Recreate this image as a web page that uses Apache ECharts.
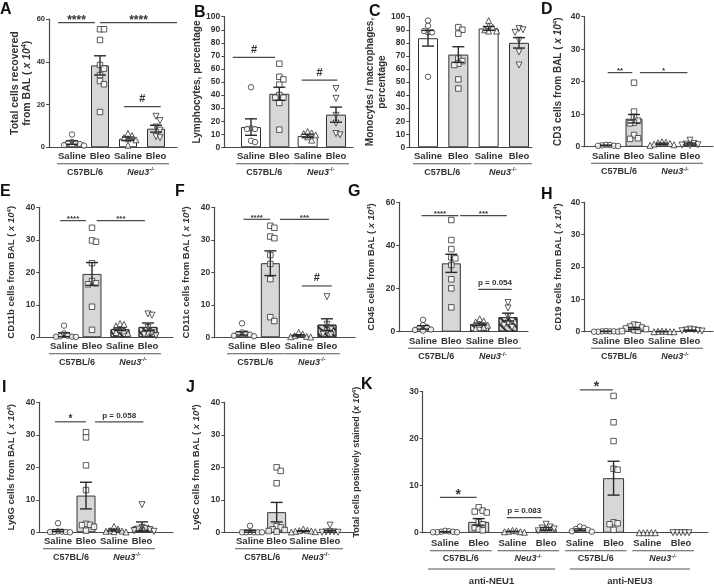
<!DOCTYPE html>
<html><head><meta charset="utf-8">
<script src="https://cdn.jsdelivr.net/npm/echarts@6/dist/echarts.min.js"></script>
<style>html,body{margin:0;padding:0;background:#fff}#c{width:714px;height:586px}</style>
</head><body><div id="c"></div>
<script>
// ---------------- DATA ----------------
const groupNames = ['Saline', 'Bleo', 'Saline', 'Bleo'];
const groupNamesK = ['Saline', 'Bleo', 'Saline', 'Bleo', 'Saline', 'Bleo', 'Saline', 'Bleo'];
const strainNames = ['C57BL/6', 'Neu3'];
const antibodyNames = ['anti-NEU1', 'anti-NEU3'];

const yTitles = [
  '{n|Total cells recovered}\n{n|from BAL ( }{i|x 10}{s|4}{n|)}',
  '{n|Lymphocytes, percentage}',
  '{n|Monocytes / macrophages,}\n{n|percentage}',
  '{n|CD3 cells from BAL ( }{i|x 10}{s|4}{n|)}',
  '{n|CD11b cells from BAL ( }{i|x 10}{s|4}{n|)}',
  '{n|CD11c cells from BAL ( }{i|x 10}{s|4}{n|)}',
  '{n|CD45 cells from BAL ( }{i|x 10}{s|4}{n|)}',
  '{n|CD19 cells from BAL ( }{i|x 10}{s|4}{n|)}',
  '{n|Ly6G cells from BAL ( }{i|x 10}{s|4}{n|)}',
  '{n|Ly6C cells from BAL ( }{i|x 10}{s|4}{n|)}',
  '{n|Total cells positively stained (}{i|x 10}{s|4}{n|)}'
];

// A: total cells
const A_mean = [2.2, 38.3, 4.0, 8.7];
const A_sem = [0.8, 4.5, 0.8, 1.6];
const A_pts = [[6, 2.5, 2, 2, 1.5, 1, 0.8], [55.2, 55.2, 50.2, 38.5, 36.8, 33.8, 31, 29.5, 16.5], [6.5, 5.5, 4.5, 4, 3.5, 1], [14.5, 12.5, 9.5, 8, 5, 4.5]];
const A_sig = [[0.5, 1.82, 58.3, '****'], [2.0, 4.75, 58.3, '****'], [2.86, 4.17, 19, '#']];
// B: lymphocytes %
const B_mean = [15.5, 41, 8.7, 25];
const B_sem = [6.3, 5, 1.3, 5.8];
const B_pts = [[46, 14.5, 14, 14, 5, 4], [64, 54, 52, 48, 40, 38, 38, 34, 13.5], [12, 11, 10.5, 9.5, 8, 5.5], [45, 37.5, 24.5, 18.5, 10.5, 9.5]];
const B_sig = [[0.36, 1.85, 68.9, '#'], [2.79, 4.05, 51.5, '#']];
// C: monocytes / macrophages %
const C_mean = [83.5, 71, 91, 80];
const C_sem = [6, 6, 1.5, 4];
const C_pts = [[97, 93, 88, 88, 89, 54], [92, 90, 87, 68, 66, 64, 63, 52, 45], [97, 93, 92, 90, 89, 89], [91, 90, 88, 82, 73, 63]];
const C_sig = [];
// D: CD3
const D_mean = [0.4, 8.6, 0.9, 0.8];
const D_sem = [0.1, 1.3, 0.2, 0.3];
const D_pts = [[0.6, 0.5, 0.4, 0.3, 0.3, 0.2], [19.7, 10.8, 9.2, 8, 7.4, 7.2, 3.6, 2.6, 2.4], [1.5, 1.4, 1.2, 1, 0.8, 0.6, 0.4], [2, 1, 0.8, 0.6, 0.5, 0.4]];
const D_sig = [[1.06, 1.94, 22.8, '**'], [2.21, 3.91, 22.8, '*']];
// E: CD11b
const E_mean = [0.8, 19.5, 2.5, 3.2];
const E_sem = [0.6, 3.5, 0.4, 1.2];
const E_pts = [[3.6, 1.2, 0.5, 0.3, 0.2, 0.2, 0.1], [33.7, 29.8, 29.4, 22.8, 17.3, 16.6, 16.3, 9.4, 2.3], [4.2, 4, 3.5, 2.5, 2, 1.5, 1.2], [7.2, 6.8, 3, 1.5, 1, 0.8, 0.5]];
const E_sig = [[0.86, 1.79, 35.9, '****'], [2.17, 3.89, 35.9, '***']];
// F: CD11c
const F_mean = [1.2, 22.8, 0.6, 3.9];
const F_sem = [0.5, 3.8, 0.2, 1.8];
const F_pts = [[4.3, 1.5, 1.2, 1, 0.8, 0.5, 0.3], [34.3, 33.7, 31, 30.5, 25.3, 22.6, 17.9, 6.2, 5], [1.5, 1, 0.5, 0.3, 0.2, 0.1], [12.5, 4, 2.5, 2, 1, 0.8]];
const F_sig = [[1.05, 1.99, 36.3, '****'], [2.34, 4.07, 36.3, '***'], [3.11, 4.17, 15.8, '#']];
// G: CD45
const G_mean = [2, 31.7, 3.5, 6.8];
const G_sem = [0.8, 4.2, 0.5, 1.8];
const G_pts = [[5.5, 3, 2, 1.5, 1, 0.8, 0.5], [51.8, 42.5, 38.3, 34.5, 34, 30.9, 24.3, 20.1, 11.3], [6, 5, 4.5, 3.5, 3, 2, 1.5], [13.5, 11, 7, 5, 4, 3, 2]];
const G_sig = [[0.95, 2.25, 53.8, '****'], [2.31, 3.96, 53.8, '***'], [2.95, 4.13, 19.6, 'p = 0.054']];
// H: CD19
const H_mean = [0.1, 1.0, 0.05, 0.4];
const H_sem = [0.05, 0.3, 0.03, 0.1];
const H_pts = [[0.2, 0.1, 0.1, 0.1, 0, 0, 0], [2.2, 2, 1.6, 1.3, 1, 0.8, 0.5, 0.3, 0.2], [0.2, 0.1, 0.1, 0, 0, 0], [0.8, 0.6, 0.5, 0.4, 0.3, 0.2]];
const H_sig = [];
// I: Ly6G
const I_mean = [0.5, 11.3, 0.7, 1.8];
const I_sem = [0.3, 4.1, 0.3, 1.4];
const I_pts = [[2.8, 0.3, 0.2, 0.1, 0.1, 0.1, 0], [30.8, 29.2, 20.6, 13, 2.6, 2.3, 2.2, 1.7, 0.5], [1.8, 1, 0.5, 0.4, 0.3, 0.2, 0.1], [8.5, 1.5, 1.2, 1, 0.8, 0.5, 0.3]];
const I_sig = [[0.89, 2.0, 34, '*'], [2.32, 4.05, 34, 'p = 0.058']];
// J: Ly6C
const J_mean = [0.3, 6.2, 0.4, 0.3];
const J_sem = [0.3, 3.0, 0.1, 0.3];
const J_pts = [[2, 0.1, 0, 0, 0, 0, 0], [20, 18.9, 15.1, 1.9, 1.5, 0.9, 0.7, 0.4, 0.2], [1, 0.6, 0.5, 0.4, 0.3, 0.2, 0.1], [2.2, 0.2, 0.1, 0.1, 0, 0]];
const J_sig = [];
// K: positively stained cells
const K_mean = [0.2, 2.3, 0.25, 0.8, 0.6, 11.6, 0, 0];
const K_sem = [0.05, 0.7, 0.05, 0.3, 0.2, 3.6, 0, 0];
const K_pts = [[0.4, 0.3, 0.2, 0.2, 0.1, 0.1, 0.1], [5.4, 4.7, 4.5, 4.3, 2.2, 1.8, 1.1, 0.7, 0.5], [0.5, 0.4, 0.3, 0.2, 0.2, 0.1], [1.8, 1.2, 1.0, 0.8, 0.5, 0.4], [1.3, 1.0, 0.8, 0.6, 0.3, 0.2], [29.1, 23.5, 19.5, 13.6, 13.4, 2.2, 2.0, 1.8, 0.6], [0, 0, 0, 0, 0], [0, 0, 0, 0, 0]];
const K_sig = [[0.85, 1.94, 7.5, '*'], [2.83, 3.87, 3.2, 'p = 0.083'], [5.0, 5.98, 30.4, '*']];

// ---------------- LAYOUT / STYLE ----------------
const FONT = '"Liberation Sans", Arial, sans-serif';
const TXT = '#333';
const AX = '#4a4a4a';
const layout = [
  {letter: 'A', lx: 0, ly: 2, axL: 49, axR: 177, top: 19, bot: 147.3, c1: 72, cN: 156, ymax: 60, yint: 20, barW: 18, hatch: false, tickFont: 7.5, nameGap: 28, nameFont: 10.5, starFont: 12},
  {letter: 'B', lx: 194, ly: 5, axL: 224.3, axR: 353, top: 16.7, bot: 147.3, c1: 251, cN: 336, ymax: 100, yint: 10, barW: 20, hatch: false, tickFont: 8.5, nameGap: 20, nameFont: 10, starFont: 10},
  {letter: 'C', lx: 369, ly: 4, axL: 409.3, axR: 532, top: 16.7, bot: 147.3, c1: 428, cN: 519, ymax: 100, yint: 10, barW: 20, hatch: false, tickFont: 8.5, nameGap: 26, nameFont: 10, starFont: 10},
  {letter: 'D', lx: 541, ly: 2, axL: 584.3, axR: 713, top: 16.7, bot: 146.7, c1: 606, cN: 690, ymax: 40, yint: 10, barW: 17, hatch: false, tickFont: 8.5, nameGap: 26.3, nameFont: 10, starFont: 8},
  {letter: 'E', lx: 0, ly: 184, axL: 39.3, axR: 173, top: 207.3, bot: 337.3, c1: 64, cN: 148, ymax: 40, yint: 10, barW: 19, hatch: true, tickFont: 8.5, nameGap: 27.6, nameFont: 9.5, starFont: 8},
  {letter: 'F', lx: 175, ly: 184, axL: 214.3, axR: 355, top: 207.3, bot: 337.3, c1: 242, cN: 327, ymax: 40, yint: 10, barW: 19, hatch: true, tickFont: 8.5, nameGap: 27.6, nameFont: 9.5, starFont: 8},
  {letter: 'G', lx: 348, ly: 184, axL: 399.3, axR: 528, top: 202.3, bot: 331.7, c1: 423, cN: 508, ymax: 60, yint: 20, barW: 19, hatch: true, tickFont: 8.5, nameGap: 27.6, nameFont: 9.5, starFont: 8},
  {letter: 'H', lx: 541, ly: 187, axL: 584.3, axR: 713, top: 202.3, bot: 331.7, c1: 606, cN: 690, ymax: 40, yint: 10, barW: 18, hatch: true, tickFont: 8.5, nameGap: 26.3, nameFont: 9.5, starFont: 8},
  {letter: 'I', lx: 2, ly: 380, axL: 39.3, axR: 173, top: 402.3, bot: 532.3, c1: 58, cN: 142, ymax: 40, yint: 10, barW: 19, hatch: true, tickFont: 8.5, nameGap: 27.6, nameFont: 9.5, starFont: 10},
  {letter: 'J', lx: 186, ly: 380, axL: 224.3, axR: 355, top: 402.3, bot: 532.3, c1: 250, cN: 330, ymax: 40, yint: 10, barW: 19, hatch: true, tickFont: 8.5, nameGap: 27.6, nameFont: 9.5, starFont: 8},
  {letter: 'K', lx: 361, ly: 377, axL: 422.7, axR: 708, top: 391.7, bot: 532.7, c1: 445, cN: 681, ymax: 30, yint: 10, barW: 21, hatch: false, tickFont: 8.5, nameGap: 66, nameFont: 9, starFont: 14}
];
const panels = [
  [A_mean, A_sem, A_pts, A_sig], [B_mean, B_sem, B_pts, B_sig], [C_mean, C_sem, C_pts, C_sig],
  [D_mean, D_sem, D_pts, D_sig], [E_mean, E_sem, E_pts, E_sig], [F_mean, F_sem, F_pts, F_sig],
  [G_mean, G_sem, G_pts, G_sig], [H_mean, H_sem, H_pts, H_sig], [I_mean, I_sem, I_pts, I_sig],
  [J_mean, J_sem, J_pts, J_sig], [K_mean, K_sem, K_pts, K_sig]
];

function makeRich(fs) {
  const base = {fontSize: fs, fontWeight: 'bold', color: TXT, fontFamily: FONT, lineHeight: fs + 2};
  return {
    n: base,
    i: Object.assign({}, base, {fontStyle: 'italic'}),
    s: {fontSize: Math.round(fs * 0.62), fontWeight: 'bold', color: TXT, fontFamily: FONT, verticalAlign: 'top', lineHeight: fs * 0.7}
  };
}
const strainRich = {
  n: {fontSize: 9, fontWeight: 'bold', fill: TXT, fontFamily: FONT, lineHeight: 11},
  i: {fontSize: 9, fontWeight: 'bold', fontStyle: 'italic', fill: TXT, fontFamily: FONT, lineHeight: 11},
  s: {fontSize: 6, fontWeight: 'bold', fill: TXT, fontFamily: FONT, verticalAlign: 'top', lineHeight: 7}
};

// simple beeswarm so overlapping points spread sideways
function swarm(vals, xc, tolY, dx) {
  const placed = [];
  const offs = [0, 1, -1, 2, -2, 3, -3];
  vals.forEach((v, idx) => {
    let off = null;
    for (const o of offs) {
      if (!placed.some(p => Math.abs(p.v - v) < tolY && p.o === o)) { off = o; break; }
    }
    if (off === null) off = offs[idx % offs.length] * 0.5;
    placed.push({v: v, o: off});
  });
  return placed.map(p => [xc + p.o * dx, p.v]);
}

const grids = [], xAxes = [], yAxes = [], series = [], graphics = [];
const SYM = ['circle', 'rect', 'triangle', 'triangle'];

layout.forEach((L, k) => {
  const [means, sems, pts, sig] = panels[k];
  const cats = means.length === 8 ? groupNamesK : groupNames;
  const n = cats.length;
  const ppu = (L.cN - L.c1) / (n - 1);
  const xmin = 1 - (L.c1 - L.axL) / ppu;
  const xmax = n + (L.axR - L.cN) / ppu;
  grids.push({left: L.axL, top: L.top, width: L.axR - L.axL, height: L.bot - L.top, containLabel: false, outerBoundsMode: 'none'});
  xAxes.push({gridIndex: k, type: 'value', min: xmin, max: xmax,
    axisLine: {show: true, onZero: false, lineStyle: {color: AX, width: 1.2}},
    axisTick: {show: false}, axisLabel: {show: false}, splitLine: {show: false}});
  yAxes.push({gridIndex: k, type: 'value', min: 0, max: L.ymax, interval: L.yint,
    axisLine: {show: true, lineStyle: {color: AX, width: 1.2}},
    axisTick: {show: true, length: 3, lineStyle: {color: AX, width: 1}},
    axisLabel: {fontSize: L.tickFont, fontWeight: 'bold', color: TXT, fontFamily: FONT, margin: 4},
    splitLine: {show: false},
    name: yTitles[k], nameLocation: 'middle', nameRotate: 90, nameGap: L.nameGap,
    nameTextStyle: {align: 'center', verticalAlign: 'middle', rich: makeRich(L.nameFont)}});

  // bars
  series.push({type: 'bar', xAxisIndex: k, yAxisIndex: k, barWidth: L.barW, silent: true, animation: false, z: 2,
    data: means.map((m, i) => {
      const neu = (i % 4) >= 2;
      const st = {color: i % 2 === 0 ? '#ffffff' : '#d7d7d7', borderColor: '#333', borderWidth: 1};
      if (L.hatch && neu) {
        st.decal = {symbol: 'rect', symbolSize: 1, color: 'rgba(30,30,30,0.9)', dashArrayX: [1, 0], dashArrayY: [1.2, 2.2], rotation: Math.PI / 4};
      }
      return {value: [i + 1, m], itemStyle: st};
    })});

  // points
  const tolY = L.ymax * 0.04;
  const dx = 4 / ppu;
  pts.forEach((vals, g) => {
    series.push({type: 'scatter', xAxisIndex: k, yAxisIndex: k, silent: true, animation: false, z: 3,
      symbol: SYM[g % 4], symbolRotate: (g % 4) === 3 ? 180 : 0, symbolSize: (g % 4) >= 2 ? 6 : 5.5,
      itemStyle: {color: '#fff', borderColor: '#333', borderWidth: 1},
      data: swarm(vals, g + 1, tolY, dx)});
  });

  // error bars (mean ± SEM)
  series.push({type: 'custom', xAxisIndex: k, yAxisIndex: k, silent: true, animation: false, clip: false, z: 4,
    data: means.map((m, i) => [i + 1, m, sems[i]]),
    renderItem: (p, api) => {
      const x = api.value(0), m = api.value(1), s = api.value(2);
      if (s <= 0) return null;
      const a = api.coord([x, m + s]), b = api.coord([x, Math.max(0, m - s)]);
      const w = 6;
      const st = {stroke: '#2a2a2a', lineWidth: 1.4};
      return {type: 'group', children: [
        {type: 'line', shape: {x1: a[0], y1: a[1], x2: b[0], y2: b[1]}, style: st},
        {type: 'line', shape: {x1: a[0] - w, y1: a[1], x2: a[0] + w, y2: a[1]}, style: st},
        {type: 'line', shape: {x1: b[0] - w, y1: b[1], x2: b[0] + w, y2: b[1]}, style: st}
      ]};
    }});

  // significance brackets
  if (sig.length) {
    series.push({type: 'custom', xAxisIndex: k, yAxisIndex: k, silent: true, animation: false, clip: false, z: 5,
      data: sig.map(s => [s[0], s[2], s[1]]),
      renderItem: (p, api) => {
        const s = sig[p.dataIndex];
        const a = api.coord([s[0], s[2]]), b = api.coord([s[1], s[2]]);
        const t = s[3];
        let fs = 8, dy = -1.5;
        if (t[0] === '*') { fs = L.starFont; dy = fs * 0.38; }
        else if (t[0] === '#') { fs = 11; dy = -1; }
        return {type: 'group', children: [
          {type: 'line', shape: {x1: a[0], y1: a[1], x2: b[0], y2: b[1]}, style: {stroke: AX, lineWidth: 1.2}},
          {type: 'text', style: {text: t, x: (a[0] + b[0]) / 2, y: a[1] + dy - 1, align: 'center', verticalAlign: 'bottom',
            fontSize: fs, fontWeight: 'bold', fontFamily: FONT, fill: TXT}}
        ]};
      }});
  }

  // category labels, strain and antibody group lines
  const isK = n === 8;
  const catDy = isK ? 10.6 : 9.4, lineDy = isK ? 18 : 16.5, strainDy = isK ? 26.3 : 25;
  series.push({type: 'custom', xAxisIndex: k, yAxisIndex: k, silent: true, animation: false, clip: false, z: 5,
    data: [[1, 0]],
    renderItem: (p, api) => {
      const ch = [];
      const y0 = api.coord([1, 0])[1];
      const lst = {stroke: '#555', lineWidth: 1.1};
      cats.forEach((c, i) => {
        const x = api.coord([i + 1, 0])[0];
        ch.push({type: 'text', style: {text: c, x: x, y: y0 + catDy, align: 'center', verticalAlign: 'middle',
          fontSize: 9.5, fontWeight: 'bold', fontFamily: FONT, fill: TXT}});
      });
      for (let s = 0; s < n / 2; s++) {
        const xa = api.coord([2 * s + 1, 0])[0], xb = api.coord([2 * s + 2, 0])[0];
        const l1 = xa - 15, l2 = xb + 13;
        ch.push({type: 'line', shape: {x1: l1, y1: y0 + lineDy, x2: l2, y2: y0 + lineDy}, style: lst});
        const txt = s % 2 === 0 ? '{n|' + strainNames[0] + '}' : '{i|' + strainNames[1] + '}{s|-/-}';
        ch.push({type: 'text', style: {text: txt, rich: strainRich, x: (l1 + l2) / 2, y: y0 + strainDy, align: 'center', verticalAlign: 'middle'}});
      }
      if (isK) {
        for (let a = 0; a < 2; a++) {
          const xa = api.coord([4 * a + 1, 0])[0], xb = api.coord([4 * a + 4, 0])[0];
          const l1 = xa - (a === 0 ? 17 : 10), l2 = xb + 9;
          ch.push({type: 'line', shape: {x1: l1, y1: y0 + 36.3, x2: l2, y2: y0 + 36.3}, style: lst});
          ch.push({type: 'text', style: {text: antibodyNames[a], x: (l1 + l2) / 2, y: y0 + 49, align: 'center', verticalAlign: 'middle',
            fontSize: 9.5, fontWeight: 'bold', fontFamily: FONT, fill: TXT}});
        }
      }
      return {type: 'group', children: ch};
    }});

  graphics.push({type: 'text', left: L.lx, top: L.ly, silent: true,
    style: {text: L.letter, fontSize: 16, fontWeight: 'bold', fontFamily: FONT, fill: '#111'}});
});

const chart = echarts.init(document.getElementById('c'), null, {renderer: 'canvas'});
chart.setOption({
  animation: false,
  backgroundColor: '#fff',
  grid: grids, xAxis: xAxes, yAxis: yAxes, series: series, graphic: graphics
});
</script></body></html>
